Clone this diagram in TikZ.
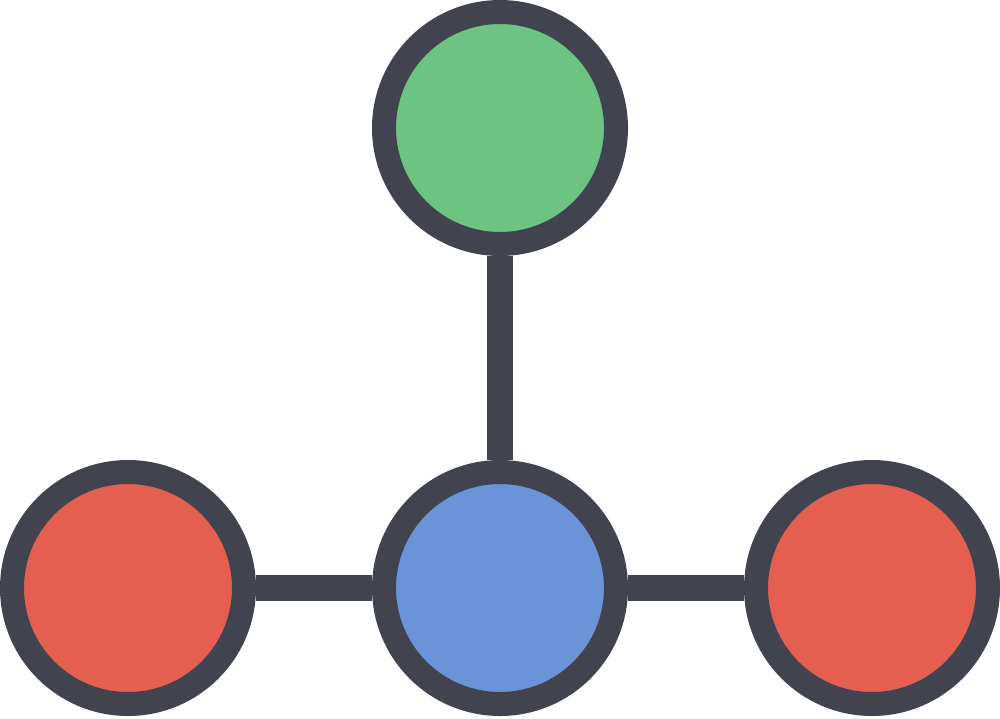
\documentclass[tikz,border=0pt]{standalone}
\usepackage{tikz}

\definecolor{rim}{HTML}{41444F}
\definecolor{leafgreen}{HTML}{6DC381}
\definecolor{hubblue}{HTML}{6A93D8}
\definecolor{tipred}{HTML}{E55F50}

\tikzset{
  ball/.style={circle,draw=rim,line width=0.24cm,minimum size=2.32cm,inner sep=0pt},
  bond/.style={draw=rim,line width=0.26cm}
}

\begin{document}
\begin{tikzpicture}
\useasboundingbox (0,0) rectangle (10,7.18);

\node[ball,fill=leafgreen] (top) at (5,5.90) {};
\node[ball,fill=hubblue] (hub) at (5,1.30) {};
\node[ball,fill=tipred] (left) at (1.28,1.30) {};
\node[ball,fill=tipred] (right) at (8.72,1.30) {};

\draw[bond] (top) -- (hub);
\draw[bond] (left) -- (hub);
\draw[bond] (hub) -- (right);

\end{tikzpicture}
\end{document}
